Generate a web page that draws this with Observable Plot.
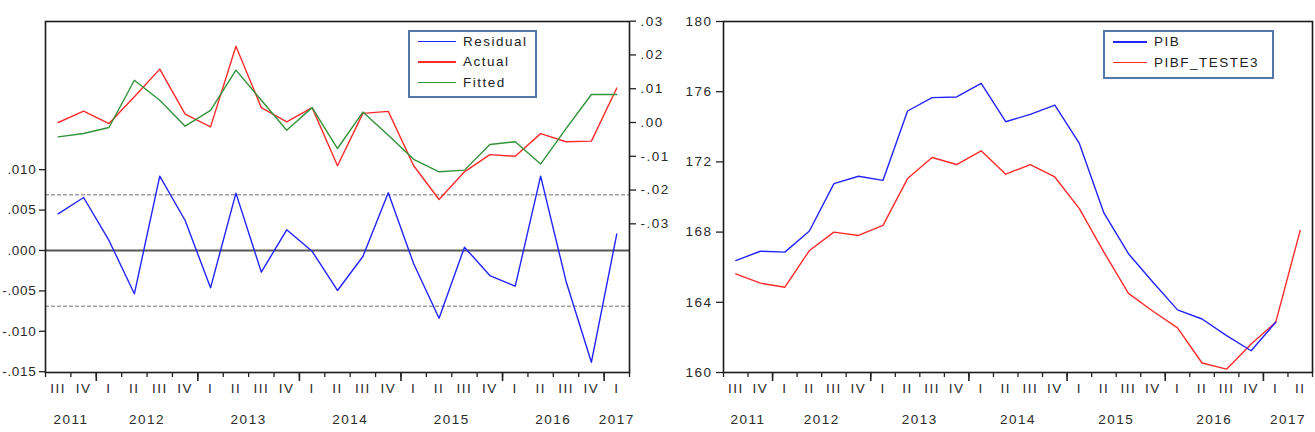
<!DOCTYPE html>
<html>
<head>
<meta charset="utf-8">
<script src="https://cdn.jsdelivr.net/npm/d3@7"></script>
<script src="https://cdn.jsdelivr.net/npm/@observablehq/plot@0.6"></script>
<style>
  body { margin: 0; background: #fff; }
  #wrap { position: relative; width: 1315px; height: 432px; overflow: hidden; background: #fff;
          font-family: "Liberation Sans", Arial, sans-serif; }
  #wrap svg text { letter-spacing: 1.5px; }
  #wrap svg g.ylab-left text { letter-spacing: 0.7px; }
  .panel { position: absolute; top: 0; }
  .legend { position: absolute; border: 2px solid #5277ab; background: #fff; box-sizing: border-box; }
  .legend .row { position: absolute; left: 0; height: 16px; width: 100%; }
  .legend .sw { position: absolute; top: 7px; height: 1.6px; }
  .legend .lab { position: absolute; top: 0; line-height: 16px; font-size: 13.5px; color: #222;
                 letter-spacing: 1.5px; white-space: nowrap; font-family: "Liberation Sans", Arial, sans-serif; }
</style>
</head>
<body>
<div id="wrap">
  <div class="panel" id="left" style="left:0;width:690px;height:432px"></div>
  <div class="panel" id="right" style="left:660px;width:655px;height:432px"></div>
</div>
<script>
// ---------------- data ----------------
// Left panel: 2011 Q3 .. 2017 Q1
const leftQuarters = ["III","IV","I","II","III","IV","I","II","III","IV","I","II","III","IV","I","II","III","IV","I","II","III","IV","I"];
const leftYears = [2011, 2012, 2013, 2014, 2015, 2016, 2017];
const residual = [0.00454, 0.00656, 0.00124, -0.00536, 0.0092, 0.00371, -0.00462, 0.0071, -0.00268, 0.00256,
                  -0.0001, -0.00495, -0.00074, 0.00714, -0.00165, -0.00838, 0.00041, -0.0031, -0.00442, 0.0092,
                  -0.0038, -0.01383, 0.00206];
const actual = [0.0000, 0.00334, -0.0003, 0.0076, 0.0158, 0.00246, -0.0013, 0.0226, 0.0044, 0.0002,
                0.0044, -0.0128, 0.0027, 0.0033, -0.0128, -0.0228, -0.0146, -0.0095, -0.0100, -0.0033,
                -0.0057, -0.0055, 0.0102];
const fitted = [-0.00426, -0.00325, -0.00148, 0.0125, 0.0066, -0.0011, 0.0036, 0.0155, 0.0066, -0.0023,
                0.0044, -0.0077, 0.0031, -0.0038, -0.0109, -0.0146, -0.0141, -0.0065, -0.0057, -0.0123,
                -0.0018, 0.0083, 0.0083];
const residualBand = 0.0069;
const leftAxisTicks = [-0.015, -0.010, -0.005, 0.000, 0.005, 0.010];
const rightAxisTicks = [-0.03, -0.02, -0.01, 0.00, 0.01, 0.02, 0.03];

// Right panel: 2011 Q3 .. 2017 Q2
const rightQuarters = ["III","IV","I","II","III","IV","I","II","III","IV","I","II","III","IV","I","II","III","IV","I","II","III","IV","I","II"];
const rightYears = [2011, 2012, 2013, 2014, 2015, 2016, 2017];
const pib = [166.38, 166.91, 166.86, 168.06, 170.76, 171.18, 170.95, 174.9, 175.66, 175.7,
             176.48, 174.29, 174.71, 175.24, 173.05, 169.09, 166.77, 165.14, 163.57, 163.05,
             162.1, 161.24, 162.86];
const pibf = [165.62, 165.09, 164.86, 166.95, 168.0, 167.81, 168.38, 171.05, 172.25, 171.85,
              172.63, 171.3, 171.85, 171.14, 169.34, 166.86, 164.51, 163.49, 162.54, 160.54,
              160.19, 161.62, 162.86, 168.1];
const pibTicks = [160, 164, 168, 172, 176, 180];

// ---------------- styling ----------------
const BLUE = "#2323ff", RED = "#ff2b2b", GREEN = "#33933a";
const FONT = "'Liberation Sans', Arial, sans-serif";
const baseStyle = {fontSize: "13.5px", fontFamily: FONT, color: "#2a2a2a", background: "transparent", overflow: "visible"};

// secondary axis mapping for Actual / Fitted onto the residual scale
const SEC_A = 0.01584, SEC_B = 0.418;
const toPrimary = w => SEC_A + SEC_B * w;

function fmtLead(v, digits) {
  const s = Math.abs(v).toFixed(digits).replace(/^0/, "");
  return (v < -1e-9 ? "-" : "") + s;
}

function quarterTicks(quarters) {
  const all = d3.range(quarters.length + 1).map(i => i - 0.5);
  const major = quarters.map((q, i) => q === "I" ? i - 0.5 : null).filter(d => d !== null);
  return {all, major};
}
function yearCenters(quarters, years) {
  const groups = [];
  let g = 0;
  quarters.forEach((q, i) => {
    if (q === "I" && i > 0) g++;
    (groups[g] = groups[g] || []).push(i);
  });
  return years.map((y, k) => d3.mean(groups[k]));
}

function xAxisMarks(quarters, years) {
  const t = quarterTicks(quarters);
  const centers = yearCenters(quarters, years);
  return [
    Plot.axisX(t.all, {anchor: "bottom", tickSize: 5, tickFormat: () => "", stroke: "#222", strokeWidth: 1.3}),
    Plot.axisX(t.major, {anchor: "bottom", tickSize: 9, tickFormat: () => "", stroke: "#222", strokeWidth: 1.6}),
    Plot.text(quarters, {x: (d, i) => i, text: d => d, frameAnchor: "bottom", dy: 20, fill: "#2a2a2a"}),
    Plot.text(years, {x: centers, text: d => String(d), frameAnchor: "bottom", dy: 51, fill: "#2a2a2a"})
  ];
}

// ---------------- left panel ----------------
const idxL = leftQuarters.map((q, i) => i);
const leftPlot = Plot.plot({
  width: 690, height: 432,
  marginLeft: 45, marginRight: 61, marginTop: 21, marginBottom: 60,
  x: {domain: [-0.5, leftQuarters.length - 0.5], axis: null},
  y: {domain: [-0.0151, 0.02834], axis: null},
  style: baseStyle,
  marks: [
    Plot.ruleY([-residualBand, residualBand], {stroke: "#a0a0a0", strokeDasharray: "4,2", strokeWidth: 1.3}),
    Plot.ruleY([0], {stroke: "#555", strokeWidth: 2.2}),
    Plot.line(idxL, {x: i => i, y: i => toPrimary(actual[i]), stroke: RED, strokeWidth: 1.4}),
    Plot.line(idxL, {x: i => i, y: i => toPrimary(fitted[i]), stroke: GREEN, strokeWidth: 1.4}),
    Plot.line(idxL, {x: i => i, y: i => residual[i], stroke: BLUE, strokeWidth: 1.4}),
    Plot.frame({stroke: "#1a1a1a", strokeWidth: 1.6}),
    Plot.axisY(leftAxisTicks, {anchor: "left", tickSize: 6, tickPadding: 3, className: "ylab-left",
      tickFormat: d => fmtLead(d, 3), stroke: "#222", strokeWidth: 1.3}),
    Plot.axisY(rightAxisTicks.map(toPrimary), {anchor: "right", tickSize: 6, tickPadding: 5,
      tickFormat: d => fmtLead(Math.round((d - SEC_A) / SEC_B * 100) / 100, 2), stroke: "#222", strokeWidth: 1.3}),
    ...xAxisMarks(leftQuarters, leftYears)
  ]
});
document.getElementById("left").appendChild(leftPlot);

// ---------------- right panel ----------------
const rightPlot = Plot.plot({
  width: 655, height: 432,
  marginLeft: 63, marginRight: 3, marginTop: 21, marginBottom: 60,
  x: {domain: [-0.5, rightQuarters.length - 0.5], axis: null},
  y: {domain: [160, 180], axis: null},
  style: baseStyle,
  marks: [
    Plot.line(pibf.map((v, i) => i), {x: i => i, y: i => pibf[i], stroke: RED, strokeWidth: 1.4}),
    Plot.line(pib.map((v, i) => i), {x: i => i, y: i => pib[i], stroke: BLUE, strokeWidth: 1.4}),
    Plot.frame({stroke: "#1a1a1a", strokeWidth: 1.6}),
    Plot.axisY(pibTicks, {anchor: "left", tickSize: 7, tickPadding: 4, tickFormat: d => String(d), stroke: "#222", strokeWidth: 1.3}),
    ...xAxisMarks(rightQuarters, rightYears)
  ]
});
document.getElementById("right").appendChild(rightPlot);

// ---------------- legends ----------------
function legend(left, top, width, height, swLeft, swWidth, textLeft, rows, items) {
  const box = document.createElement("div");
  box.className = "legend";
  Object.assign(box.style, {left: left + "px", top: top + "px", width: width + "px", height: height + "px"});
  items.forEach((it, k) => {
    const row = document.createElement("div");
    row.className = "row";
    row.style.top = (rows[k] - 8) + "px";
    const sw = document.createElement("div");
    sw.className = "sw";
    Object.assign(sw.style, {left: swLeft + "px", width: swWidth + "px", background: it.color});
    const lab = document.createElement("span");
    lab.className = "lab";
    lab.style.left = textLeft + "px";
    lab.textContent = it.name;
    row.appendChild(sw); row.appendChild(lab);
    box.appendChild(row);
  });
  document.getElementById("wrap").appendChild(box);
}
legend(408, 30, 129, 68, 8, 38, 53, [9.7, 30.3, 50.7],
  [{name: "Residual", color: BLUE}, {name: "Actual", color: RED}, {name: "Fitted", color: GREEN}]);
legend(1103, 30, 171, 49, 8, 34, 49, [10.3, 30.7],
  [{name: "PIB", color: BLUE}, {name: "PIBF_TESTE3", color: RED}]);
</script>
</body>
</html>
